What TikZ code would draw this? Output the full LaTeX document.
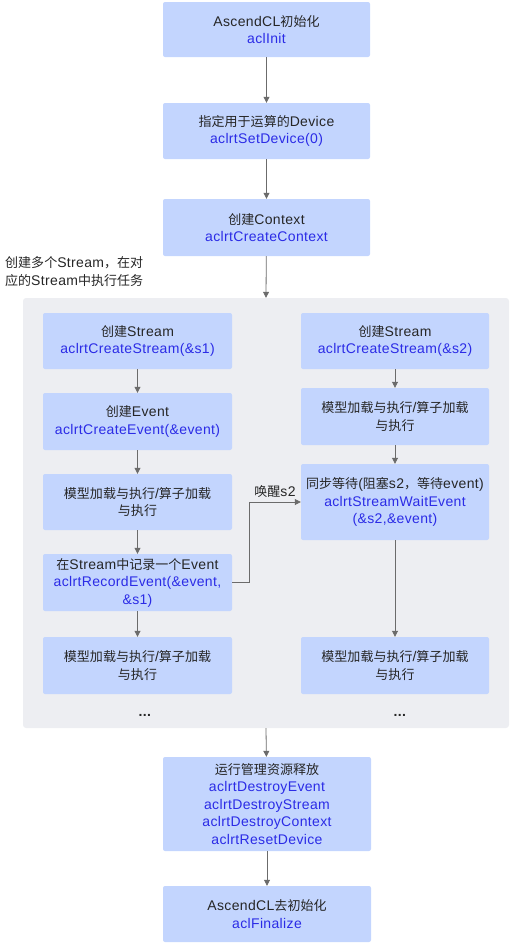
\documentclass[tikz,border=0pt]{standalone}
\usepackage{fontspec}
\setmainfont{Liberation Sans}[LetterSpace=2.5]
\newfontfamily\latinfont{Liberation Sans}[LetterSpace=2.5]
\newfontfamily\cjkfont{Noto Sans CJK SC}[Scale=0.93]
% switch to the CJK font for Chinese characters
\XeTeXinterchartokenstate=1
\newXeTeXintercharclass\cjkclass
\count255="3000
\loop\ifnum\count255<"A000 \XeTeXcharclass\count255=\cjkclass \advance\count255 by 1 \repeat
\XeTeXcharclass"FF0C=\cjkclass
\XeTeXinterchartoks 0 \cjkclass = {\cjkfont}
\XeTeXinterchartoks 4095 \cjkclass = {\cjkfont}
\XeTeXinterchartoks \cjkclass 0 = {\latinfont}
\XeTeXinterchartoks \cjkclass 4095 = {\latinfont}
\usetikzlibrary{arrows.meta}
\definecolor{boxblue}{HTML}{C3D5FE}
\definecolor{groupgray}{HTML}{EDEEF2}
\definecolor{apiblue}{HTML}{2B2BE6}
\definecolor{textgray}{HTML}{262626}
\definecolor{linegray}{HTML}{6B6B6B}
\newcommand{\api}[1]{\textcolor{apiblue}{#1}}
\tikzset{
  stepbox/.style={rectangle, rounded corners=2pt, fill=boxblue, inner sep=0pt,
    align=center, text=textgray, minimum width=189pt, minimum height=56pt},
  flow/.style={draw=linegray, line width=0.8pt, -{Triangle[length=6pt,width=6pt]}},
}
\begin{document}
\begin{tikzpicture}[x=1pt, y=-1pt, font=\fontsize{14}{17.5}\selectfont]
    \useasboundingbox (0,0) rectangle (511,943);

    % Stream group
    \node[rectangle, rounded corners=3pt, fill=groupgray, minimum width=486pt, minimum height=430pt] (streams) at (266,513) {};
    \node[anchor=west, align=left, inner sep=0pt, text=textgray] (grouplabel) at (5,271.5) {创建多个Stream，在对\\应的Stream中执行任务};

    % Main steps
    \node[stepbox, minimum width=207pt, minimum height=55pt] (init) at (266.5,29.5) {AscendCL初始化\\\api{aclInit}};
    \node[stepbox, minimum width=207pt] (dev) at (266.5,131) {指定用于运算的Device\\\api{aclrtSetDevice(0)}};
    \node[stepbox, minimum width=207pt, minimum height=57pt] (ctx) at (266.5,227.5) {创建Context\\\api{aclrtCreateContext}};
    \node[stepbox, minimum width=208pt, minimum height=94pt] (free) at (267,804) {运行管理资源释放\\\api{aclrtDestroyEvent}\\\api{aclrtDestroyStream}\\\api{aclrtDestroyContext}\\\api{aclrtResetDevice}};
    \node[stepbox, minimum width=208pt] (fin) at (267,914) {AscendCL去初始化\\\api{aclFinalize}};

    % Stream s1
    \node[stepbox] (ls1) at (137.5,341) {创建Stream\\\api{aclrtCreateStream(\&s1)}};
    \node[stepbox, minimum height=57pt] (lev) at (137.5,421.5) {创建Event\\\api{aclrtCreateEvent(\&event)}};
    \node[stepbox] (lrun) at (137.5,502) {模型加载与执行/算子加载\\与执行};
    \node[stepbox, minimum height=57pt] (lrec) at (137.5,582.5) {在Stream中记录一个Event\\\api{aclrtRecordEvent(\&event,}\\\api{\&s1)}};
    \node[stepbox, minimum height=57pt] (lrun2) at (137.5,665.5) {模型加载与执行/算子加载\\与执行};
    \node[anchor=base, text=textgray] (ldots) at (145,716) {\textbf{...}};

    % Stream s2
    \node[stepbox, minimum width=188pt] (rs1) at (395,341) {创建Stream\\\api{aclrtCreateStream(\&s2)}};
    \node[stepbox, minimum width=188pt, minimum height=57pt] (rrun) at (395,416.5) {模型加载与执行/算子加载\\与执行};
    \node[stepbox, minimum width=188pt, minimum height=76pt] (rwait) at (395,502) {同步等待(阻塞s2，等待event)\\\api{aclrtStreamWaitEvent}\\\api{(\&s2,\&event)}};
    \node[stepbox, minimum width=188pt, minimum height=57pt] (rrun2) at (395,665.5) {模型加载与执行/算子加载\\与执行};
    \node[anchor=base, text=textgray] (rdots) at (400,716) {\textbf{...}};

    % Connectors
    \draw[flow] (init) -- (dev);
    \draw[flow] (dev) -- (ctx);
    \draw[flow] (ctx) -- (streams.north);
    \draw[flow] (streams.south) -- (free);
    \draw[flow] (free) -- (fin);

    \draw[flow] (ls1) -- (lev);
    \draw[flow] (lev) -- (lrun);
    \draw[flow] (lrun) -- (lrec);
    \draw[flow] (lrec) -- (lrun2);

    \draw[flow] (rs1) -- (rrun);
    \draw[flow] (rrun) -- (rwait);
    \draw[flow] (rwait) -- (rrun2);

    \draw[flow] (lrec.east) -- ++(17,0) |- node[pos=0.75, above=1pt, text=textgray] (wakeup) {唤醒s2} (rwait.west);
\end{tikzpicture}
\end{document}
